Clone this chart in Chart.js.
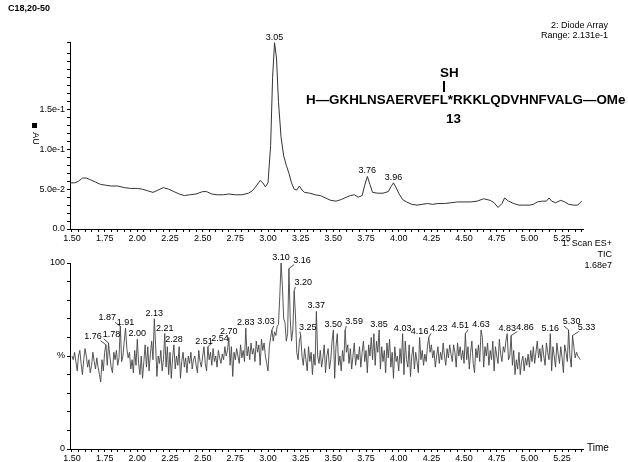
<!DOCTYPE html>
<html>
<head>
<meta charset="utf-8">
<script src="https://cdn.jsdelivr.net/npm/chart.js@4.4.0/dist/chart.umd.min.js"></script>
<style>
  body { margin: 0; background: #fff; font-family: 'Liberation Sans', Arial, sans-serif; }
  #wrap { position: relative; width: 628px; height: 462px; overflow: hidden; background: #fff; }
  canvas { position: absolute; left: 0; }
  .t { position: absolute; color: #000; white-space: nowrap; line-height: 1; }
  .pep { font-weight: bold; font-size: 13.4px; }
</style>
</head>
<body>
<div id="wrap">
  <canvas id="uvChart" width="628" height="246" style="top:0"></canvas>
  <canvas id="ticChart" width="628" height="216" style="top:246px"></canvas>

  <div class="t" style="left:8px;top:4px;font-size:9px;font-weight:bold">C18,20-50</div>
  <div class="t" style="right:20px;top:21px;font-size:9px">2: Diode Array</div>
  <div class="t" style="right:20px;top:31px;font-size:9px">Range: 2.131e-1</div>

  <div class="t pep" style="left:440px;top:66px">SH</div>
  <div style="position:absolute;left:443px;top:81px;width:1.5px;height:11px;background:#000"></div>
  <div class="t pep" style="left:306px;top:93px">H—GKHLNSAERVEFL*RKKLQDVHNFVALG—OMe</div>
  <div class="t pep" style="left:446px;top:112px">13</div>

  <div style="position:absolute;left:32px;top:123px;width:5px;height:5px;background:#000"></div>
  <div class="t" style="left:29px;top:134px;font-size:9px;transform:rotate(90deg)">AU</div>

  <div class="t" style="right:16px;top:239px;font-size:9px">1: Scan ES+</div>
  <div class="t" style="right:16px;top:250px;font-size:9px">TIC</div>
  <div class="t" style="right:16px;top:261px;font-size:9px">1.68e7</div>
  <div class="t" style="left:587px;top:443px;font-size:10px">Time</div>
</div>
<script>
// time axis (min)
const xMin = 1.485;
const xMax = 5.41;
const xTickFirst = 1.50;
const xTickLast = 5.40;
const xTickStep = 0.05;

// 2: Diode Array trace
const uvTime = [1.49, 1.52, 1.55, 1.58, 1.61, 1.64, 1.68, 1.72, 1.76, 1.80, 1.85, 1.90, 1.95, 2.00, 2.04, 2.08, 2.12, 2.16, 2.20, 2.24,
  2.28, 2.32, 2.36, 2.40, 2.45, 2.50, 2.53, 2.57, 2.61, 2.66, 2.70, 2.75, 2.80, 2.85, 2.88, 2.91, 2.94, 2.96, 2.98, 3.00,
  3.02, 3.035, 3.05, 3.065, 3.08, 3.10, 3.12, 3.14, 3.16, 3.18, 3.20, 3.22, 3.24, 3.26, 3.28, 3.32, 3.36, 3.40, 3.44, 3.48,
  3.52, 3.56, 3.60, 3.63, 3.66, 3.69, 3.72, 3.74, 3.76, 3.78, 3.80, 3.84, 3.88, 3.92, 3.94, 3.96, 3.98, 4.00, 4.03, 4.06,
  4.10, 4.14, 4.18, 4.22, 4.26, 4.30, 4.35, 4.40, 4.45, 4.50, 4.55, 4.60, 4.65, 4.70, 4.73, 4.76, 4.79, 4.81, 4.84, 4.88,
  4.92, 4.96, 5.00, 5.03, 5.06, 5.10, 5.13, 5.15, 5.17, 5.20, 5.24, 5.27, 5.30, 5.34, 5.37, 5.40];
const uvAbs = [0.058, 0.058, 0.060, 0.064, 0.064, 0.062, 0.059, 0.056, 0.055, 0.054, 0.054, 0.052, 0.051, 0.051, 0.050, 0.048, 0.046, 0.049, 0.052, 0.050,
  0.047, 0.044, 0.042, 0.043, 0.044, 0.047, 0.047, 0.044, 0.043, 0.043, 0.044, 0.043, 0.043, 0.045, 0.048, 0.054, 0.061, 0.058, 0.053, 0.058,
  0.105, 0.190, 0.234, 0.215, 0.160, 0.115, 0.092, 0.080, 0.070, 0.058, 0.050, 0.049, 0.054, 0.049, 0.046, 0.045, 0.043, 0.042, 0.039, 0.036,
  0.035, 0.037, 0.040, 0.042, 0.043, 0.040, 0.042, 0.055, 0.066, 0.056, 0.046, 0.045, 0.045, 0.047, 0.053, 0.058, 0.052, 0.045, 0.037, 0.034,
  0.031, 0.030, 0.031, 0.032, 0.031, 0.032, 0.032, 0.033, 0.034, 0.034, 0.034, 0.035, 0.038, 0.036, 0.033, 0.027, 0.032, 0.039, 0.035, 0.032,
  0.030, 0.030, 0.030, 0.031, 0.034, 0.035, 0.035, 0.039, 0.035, 0.033, 0.036, 0.034, 0.031, 0.030, 0.030, 0.035];
const uvPeaks = [3.05, 3.76, 3.96];
const uvPeakShift = [0, 0, 0];
const uvTickLabels = [0, 0.05, 0.1, 0.15];

// 1: Scan ES+ TIC, one scan every 0.01 min from 1.50
const ticStart = 1.50;
const ticStep = 0.01;
const ticPct = [
  50, 48, 52, 47, 42, 50, 53, 46, 40, 48,   // 1.50
  54, 50, 44, 48, 41, 45, 52, 47, 43, 49,   // 1.60
  44, 40, 36, 48, 42, 52, 56, 45, 57, 50,   // 1.70
  44, 41, 52, 48, 53, 45, 49, 66, 47, 50,   // 1.80
  58, 65, 54, 49, 52, 43, 48, 41, 53, 45,   // 1.90
  59, 46, 40, 50, 38, 47, 56, 44, 55, 42,   // 2.00
  51, 58, 48, 70, 56, 39, 50, 46, 53, 42,   // 2.10
  48, 62, 44, 55, 40, 52, 38, 49, 56, 43,   // 2.20
  50, 45, 55, 38, 47, 52, 44, 49, 41, 50,   // 2.30
  46, 52, 43, 48, 50, 45, 41, 53, 47, 44,   // 2.40
  50, 55, 46, 42, 55, 48, 52, 45, 54, 47,   // 2.50
  50, 44, 53, 49, 46, 51, 48, 55, 50, 53,   // 2.60
  60, 45, 55, 39, 52, 48, 54, 50, 46, 56,   // 2.70
  49, 53, 47, 65, 50, 55, 48, 57, 51, 54,   // 2.80
  47, 58, 52, 56, 45, 59, 53, 57, 50, 46,   // 2.90
  42, 55, 60, 64, 58, 63, 61, 66, 67, 82,   // 3.00
  100, 88, 70, 68, 58, 62, 97, 70, 58, 64,  // 3.10
  85, 72, 52, 48, 58, 61, 50, 45, 54, 48,   // 3.20
  42, 55, 47, 52, 40, 51, 45, 74, 50, 46,   // 3.30
  53, 44, 49, 56, 41, 50, 54, 43, 48, 58,   // 3.40
  64, 38, 55, 62, 45, 50, 42, 53, 47, 64,   // 3.50
  52, 56, 46, 54, 43, 50, 57, 45, 51, 48,   // 3.60
  55, 44, 52, 58, 47, 53, 41, 56, 50, 60,   // 3.70
  48, 62, 45, 58, 52, 64, 43, 55, 47, 53,   // 3.80
  41, 57, 49, 59, 44, 52, 38, 55, 47, 50,   // 3.90
  42, 54, 46, 62, 40, 58, 48, 44, 56, 39,   // 4.00
  50, 55, 43, 52, 47, 41, 60, 48, 53, 45,   // 4.10
  51, 47, 55, 60, 52, 56, 49, 53, 44, 50,   // 4.20
  55, 46, 52, 48, 57, 50, 45, 54, 49, 56,   // 4.30
  51, 47, 56, 52, 44, 57, 50, 55, 48, 53,   // 4.40
  46, 62, 48, 55, 43, 52, 58, 46, 41, 54,   // 4.50
  49, 56, 47, 64, 60, 44, 55, 50, 57, 45,   // 4.60
  53, 48, 58, 42, 55, 50, 46, 59, 51, 47,   // 4.70
  55, 52, 58, 62, 48, 50, 61, 45, 53, 40,   // 4.80
  48, 43, 52, 40, 47, 50, 42, 49, 45, 51,   // 4.90
  44, 53, 47, 55, 46, 52, 58, 49, 54, 47,   // 5.00
  56, 50, 45, 57, 52, 48, 62, 42, 55, 50,   // 5.10
  44, 57, 51, 46, 55, 49, 41, 56, 52, 47,   // 5.20
  64, 50, 44, 61, 55, 49, 52, 50, 49, 48    // 5.30
];
const ticPeaks = [1.76, 1.78, 1.87, 1.91, 2.00, 2.13, 2.21, 2.28, 2.51, 2.54, 2.70, 2.83, 3.03, 3.10, 3.16, 3.20,
  3.25, 3.37, 3.50, 3.59, 3.85, 4.03, 4.16, 4.23, 4.51, 4.63, 4.83, 4.86, 5.16, 5.30, 5.33];
// label offset from its peak, px
const ticPeakShift = [-13, 3, -13, 0, 0, 0, 0, 0, 0, 12, 0, 0, -6, 0, 13, 9,
  7, 0, 0, 9, 0, 0, 0, 10, -5, 0, 0, 14, 0, 3, 14];
const ticTickLabels = { 0: '0', 50: '%', 100: '100' };

const FONT = "'Liberation Sans', Arial, sans-serif";
const tickFont = { family: FONT, size: 9 };

// draws the retention time above each listed peak
const peakLabels = {
  id: 'peakLabels',
  afterDatasetsDraw(chart, args, opts) {
    const ctx = chart.ctx;
    const meta = chart.getDatasetMeta(0);
    const pts = chart.data.datasets[0].data;
    ctx.save();
    ctx.font = '9px ' + FONT;
    ctx.fillStyle = '#000';
    ctx.strokeStyle = '#222';
    ctx.lineWidth = 0.8;
    ctx.textAlign = 'center';
    ctx.textBaseline = 'bottom';
    opts.times.forEach((t, k) => {
      let best = 0;
      pts.forEach((p, i) => { if (Math.abs(p.x - t) < Math.abs(pts[best].x - t)) best = i; });
      const el = meta.data[best];
      const dx = opts.shift[k];
      const text = t.toFixed(2);
      const w = ctx.measureText(text).width;
      let ly = el.y - 1;
      if (dx !== 0) {
        ly = el.y - 4;
        ctx.beginPath();
        ctx.moveTo(el.x, el.y);
        ctx.lineTo(el.x + dx - Math.sign(dx) * (w / 2 - 1), ly);
        ctx.stroke();
      }
      ctx.fillText(text, el.x + dx, ly);
    });
    ctx.restore();
  }
};

function isQuarter(v) {
  return v >= 1.5 - 1e-9 && Math.abs(v * 4 - Math.round(v * 4)) < 1e-6;
}

function timeAxis(h) {
  return {
    type: 'linear', min: xMin, max: xMax,
    border: { display: true, color: '#000', width: 1 },
    grid: { drawOnChartArea: false, drawTicks: true, tickLength: 3, color: '#000' },
    ticks: {
      autoSkip: false, maxRotation: 0, padding: 1, color: '#000', font: tickFont,
      callback: v => isQuarter(v) ? v.toFixed(2) : ''
    },
    afterBuildTicks: axis => {
      const ticks = [];
      for (let v = xTickFirst; v <= xTickLast + 1e-9; v += xTickStep) ticks.push({ value: Math.round(v * 100) / 100 });
      axis.ticks = ticks;
    },
    afterFit: s => { s.height = h; }
  };
}

function baseOptions(padTop) {
  return {
    responsive: false,
    devicePixelRatio: 1,
    animation: false,
    layout: { padding: { top: padTop, right: 45, left: 0, bottom: 0 } },
    plugins: { legend: { display: false }, tooltip: { enabled: false } },
    elements: { point: { radius: 0 }, line: { tension: 0 } }
  };
}

// top panel: UV
const uvOpts = baseOptions(42);
uvOpts.plugins.peakLabels = { times: uvPeaks, shift: uvPeakShift };
uvOpts.scales = {
  x: timeAxis(17),
  y: {
    min: 0, max: 0.235,
    border: { display: true, color: '#000', width: 1 },
    grid: { drawOnChartArea: false, drawTicks: true, tickLength: 3, color: '#000' },
    ticks: {
      stepSize: 0.01, autoSkip: false, padding: 2, color: '#000', font: tickFont,
      callback: v => {
        const hit = uvTickLabels.find(l => Math.abs(l - v) < 1e-9);
        if (hit === undefined) return '';
        return hit === 0 ? '0.0' : hit.toExponential(1);
      }
    },
    afterFit: s => { s.width = 70; }
  }
};

new Chart(document.getElementById('uvChart'), {
  type: 'line',
  data: {
    datasets: [{
      data: uvTime.map((t, i) => ({ x: t, y: uvAbs[i] })),
      borderColor: '#333', borderWidth: 1, fill: false
    }]
  },
  options: uvOpts,
  plugins: [peakLabels]
});

// bottom panel: TIC
const ticOpts = baseOptions(17);
ticOpts.plugins.peakLabels = { times: ticPeaks, shift: ticPeakShift };
ticOpts.scales = {
  x: timeAxis(13),
  y: {
    min: 0, max: 100,
    border: { display: true, color: '#000', width: 1 },
    grid: { drawOnChartArea: false, drawTicks: true, tickLength: 3, color: '#000' },
    ticks: {
      stepSize: 10, autoSkip: false, padding: 2, color: '#000', font: tickFont,
      callback: v => ticTickLabels[v] || ''
    },
    afterFit: s => { s.width = 70; }
  }
};

new Chart(document.getElementById('ticChart'), {
  type: 'line',
  data: {
    datasets: [{
      data: ticPct.map((v, i) => ({ x: +(ticStart + i * ticStep).toFixed(2), y: v })),
      borderColor: '#444', borderWidth: 0.9, fill: false
    }]
  },
  options: ticOpts,
  plugins: [peakLabels]
});
</script>
</body>
</html>
